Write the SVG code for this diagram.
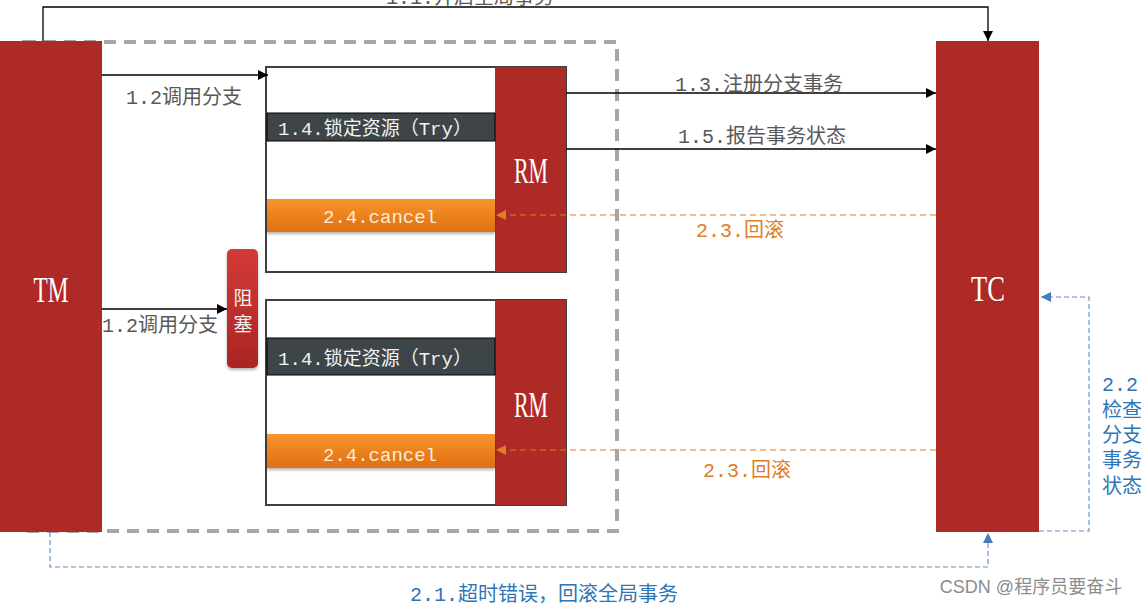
<svg xmlns="http://www.w3.org/2000/svg" width="1142" height="605" viewBox="0 0 1142 605">
<style>
.red{fill:#AE2A27}
.big{font-family:"Liberation Serif",serif;font-size:35px;fill:#fff;text-anchor:middle}
.lbl{font-family:"Liberation Mono","Noto Sans CJK SC",monospace;font-size:20px;fill:#595959;text-anchor:middle}
.bar{font-family:"Liberation Mono","Noto Sans CJK SC",monospace;font-size:19px;fill:#F2F2F2;text-anchor:middle}
.solid{stroke:#000;stroke-width:1.3;fill:none}
.odash{stroke:#E07D27;stroke-width:1.2;stroke-dasharray:6,4;fill:none}
.bdash{stroke:#6A8FC5;stroke-width:1.2;stroke-dasharray:5,3;fill:none}
</style>
<defs>
<marker id="ab" viewBox="0 0 10 10" refX="10" refY="5" markerWidth="10" markerHeight="10" markerUnits="userSpaceOnUse" orient="auto"><path d="M0,0L10,5L0,10z" fill="#000"/></marker>
<marker id="ao" viewBox="0 0 10 10" refX="10" refY="5" markerWidth="10" markerHeight="10" markerUnits="userSpaceOnUse" orient="auto"><path d="M0,0L10,5L0,10z" fill="#E07D27"/></marker>
<marker id="abl" viewBox="0 0 10 10" refX="10" refY="5" markerWidth="10" markerHeight="10" markerUnits="userSpaceOnUse" orient="auto"><path d="M0,0L10,5L0,10z" fill="#4A78BD"/></marker>
<linearGradient id="og" x1="0" y1="0" x2="0" y2="1"><stop offset="0" stop-color="#F7952B"/><stop offset="1" stop-color="#E06F12"/></linearGradient>
<linearGradient id="rg" x1="0" y1="0" x2="0" y2="1"><stop offset="0" stop-color="#D33B37"/><stop offset="1" stop-color="#A92523"/></linearGradient>
<filter id="sh" x="-10%" y="-20%" width="120%" height="150%"><feDropShadow dx="0" dy="2" stdDeviation="1.5" flood-color="#000" flood-opacity="0.3"/></filter>
</defs>
<rect width="1142" height="605" fill="#fff"/>
<rect x="24" y="42" width="593" height="489" fill="none" stroke="#A6A6A6" stroke-width="4" stroke-dasharray="12,8"/>
<g id="TM"><rect class="red" x="0" y="41" width="102" height="491"/><text class="big" x="51" y="302" textLength="35" lengthAdjust="spacingAndGlyphs">TM</text></g>
<g id="TC"><rect class="red" x="936" y="41" width="103" height="491"/><text class="big" x="988" y="301" textLength="34" lengthAdjust="spacingAndGlyphs">TC</text></g>
<g id="branch1">
<rect x="266" y="67" width="300" height="205" fill="#fff" stroke="#404040" stroke-width="2"/>
<rect class="red" x="495" y="67" width="71" height="205"/>
<text class="big" x="531" y="183" textLength="34" lengthAdjust="spacingAndGlyphs">RM</text>
<rect x="267" y="113" width="228" height="28" fill="#3E4548" stroke="#000" stroke-width="1"/>
<text class="bar" x="375" y="135">1.4.锁定资源（Try）</text>
<rect x="267" y="199" width="228" height="33" fill="url(#og)" filter="url(#sh)"/>
<text class="bar" x="380" y="223" style="fill:#FDEBD8">2.4.cancel</text>
</g>
<g id="branch2">
<rect x="266" y="300" width="300" height="205" fill="#fff" stroke="#404040" stroke-width="2"/>
<rect class="red" x="495" y="300" width="71" height="205"/>
<text class="big" x="531" y="417" textLength="34" lengthAdjust="spacingAndGlyphs">RM</text>
<rect x="267" y="338" width="228" height="37" fill="#3E4548" stroke="#000" stroke-width="1"/>
<text class="bar" x="375" y="365">1.4.锁定资源（Try）</text>
<rect x="267" y="434" width="228" height="34" fill="url(#og)" filter="url(#sh)"/>
<text class="bar" x="380" y="461" style="fill:#FDEBD8">2.4.cancel</text>
</g>
<g id="block"><rect x="227" y="249" width="31" height="119" rx="5" fill="url(#rg)" filter="url(#sh)"/><text class="bar" x="243" y="305" font-size="20">阻</text><text class="bar" x="243" y="331" font-size="20">塞</text></g>
<g id="connectors">
<path class="solid" d="M43,41V7H988V41" marker-end="url(#ab)"/>
<path class="solid" d="M102,75H268" marker-end="url(#ab)"/>
<path class="solid" d="M102,309H227" marker-end="url(#ab)"/>
<path class="solid" d="M566,93H936" marker-end="url(#ab)"/>
<path class="solid" d="M566,149H936" marker-end="url(#ab)"/>
<path class="odash" d="M936,215H496" marker-end="url(#ao)"/>
<path class="odash" d="M936,450H496" marker-end="url(#ao)"/>
<path class="bdash" d="M1039,531H1089V297H1041" marker-end="url(#abl)"/>
<path class="bdash" d="M50,532V567H988V533" marker-end="url(#abl)"/>
</g>
<g id="labels">
<text class="lbl" x="470" y="4">1.1.开启全局事务</text>
<text class="lbl" x="184" y="104">1.2调用分支</text>
<text class="lbl" x="160" y="332">1.2调用分支</text>
<text class="lbl" x="759" y="91">1.3.注册分支事务</text>
<text class="lbl" x="762" y="143">1.5.报告事务状态</text>
<text class="lbl" x="740" y="237" style="fill:#E07D27">2.3.回滚</text>
<text class="lbl" x="747" y="477" style="fill:#E07D27">2.3.回滚</text>
<text class="lbl" x="544" y="601" style="fill:#2E75B6">2.1.超时错误，回滚全局事务</text>
<g style="fill:#2E75B6;font-family:'Liberation Mono','Noto Sans CJK SC',monospace;font-size:20px">
<text x="1102" y="391">2.2.</text>
<text x="1102" y="417">检查</text>
<text x="1102" y="442">分支</text>
<text x="1102" y="467">事务</text>
<text x="1102" y="493">状态</text>
</g>
<text x="1031" y="593" text-anchor="middle" style="font-family:'Liberation Sans','Noto Sans CJK SC',sans-serif;font-size:18px;fill:#8C8C8C">CSDN @程序员要奋斗</text>
</g>
</svg>
